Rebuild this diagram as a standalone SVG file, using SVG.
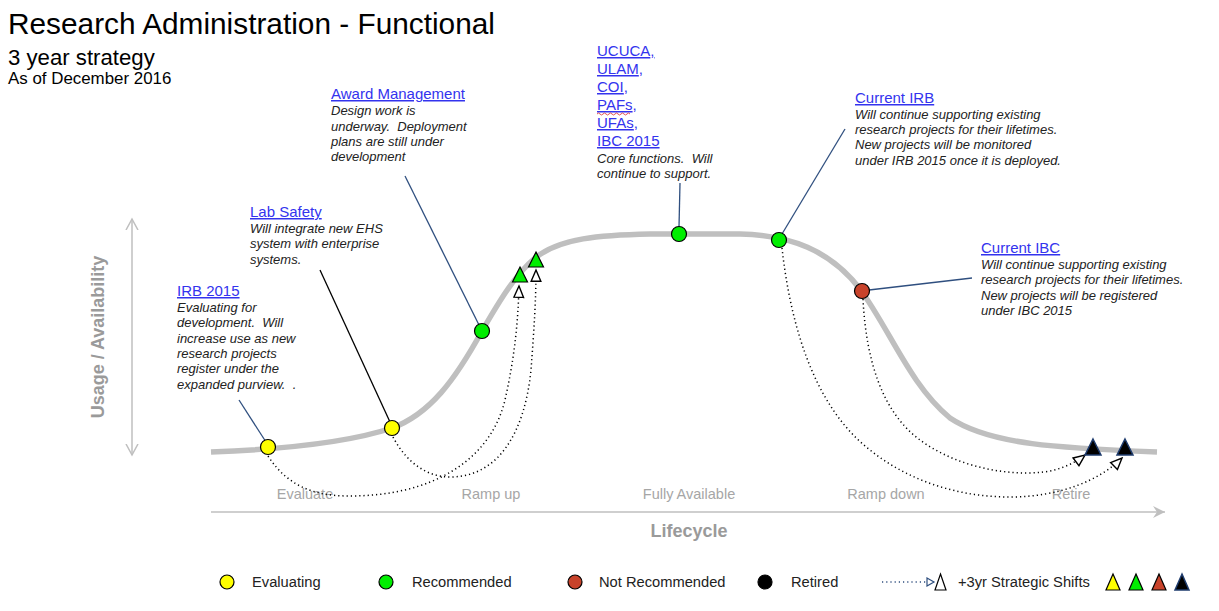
<svg xmlns="http://www.w3.org/2000/svg" width="1219" height="611" viewBox="0 0 1219 611">
<style>
  text { font-family: "Liberation Sans", Arial, sans-serif; }
  .title { font-size: 29.8px; fill: #000; }
  .sub { font-size: 22.2px; fill: #000; }
  .date { font-size: 16.9px; fill: #000; }
  .link { font-size: 15px; fill: #3333ee; text-decoration: underline; }
  .desc { font-size: 13px; font-style: italic; fill: #222; white-space: pre; }
  .stage { font-size: 14.5px; fill: #a6a6a6; }
  .axis { font-size: 18px; font-weight: bold; fill: #9a9a9a; }
  .leg { font-size: 14.7px; fill: #222; }
  .curve { fill: none; stroke: #bfbfbf; stroke-width: 5.5; stroke-linecap: butt; }
  .axisline { fill: none; stroke: #bfbfbf; stroke-width: 1.5; }
  .conn { fill: none; stroke: #2f4f7f; stroke-width: 1.3; }
  .connb { fill: none; stroke: #000; stroke-width: 1.3; }
  .dot { fill: none; stroke: #000; stroke-width: 1.5; stroke-dasharray: 1.2 3; }
  .node { stroke: #000; stroke-width: 1.2; }
  .yel { fill: #ffff00; }
  .grn { fill: #00ee00; }
  .red { fill: #c8432b; }
  .blk { fill: #000; }
  .tri-blk { fill: #000; stroke: #1f3c6e; stroke-width: 1.5; }
  .tri-grn { fill: #00ee00; stroke: #000; stroke-width: 1.2; }
</style>
<defs>
  <marker id="openArrow" markerUnits="userSpaceOnUse" markerWidth="14" markerHeight="12" refX="10.5" refY="4.5" orient="auto" viewBox="-1 -1 13 11">
    <path d="M0,0 L10.5,4.5 L0,9 Z" fill="#fff" stroke="#000" stroke-width="1.3"/>
  </marker>
  <marker id="legArrow" markerUnits="userSpaceOnUse" markerWidth="10" markerHeight="10" refX="7" refY="4" orient="auto" viewBox="-1 -1 10 10">
    <path d="M0,0 L7,4 L0,8 Z" fill="#fff" stroke="#2f4f7f" stroke-width="1.2"/>
  </marker>
  <marker id="chev" markerUnits="userSpaceOnUse" markerWidth="14" markerHeight="14" refX="12" refY="6" orient="auto" viewBox="0 0 14 12">
    <path d="M0,0 L12,6 L0,12 L4,6 Z" fill="#bfbfbf"/>
  </marker>
  <marker id="chevOpen" markerUnits="userSpaceOnUse" markerWidth="14" markerHeight="14" refX="11" refY="6" orient="auto-start-reverse" viewBox="0 0 14 12">
    <path d="M0,0 L11,6 L0,12" fill="none" stroke="#bfbfbf" stroke-width="1.5"/>
  </marker>
</defs>

<g id="title">
  <text class="title" x="8" y="34">Research Administration - Functional</text>
  <text class="sub" x="8" y="65">3 year strategy</text>
  <text class="date" x="8" y="84">As of December 2016</text>
</g>

<g id="axes">
  <line class="axisline" x1="132" y1="219" x2="132" y2="455" marker-start="url(#chevOpen)" marker-end="url(#chevOpen)"/>
  <line class="axisline" x1="211" y1="512" x2="1165" y2="512" marker-end="url(#chev)"/>
  <text class="axis" transform="translate(104,337) rotate(-90)" text-anchor="middle">Usage / Availability</text>
  <text class="axis" x="689" y="537" text-anchor="middle">Lifecycle</text>
  <text class="stage" x="305" y="499" text-anchor="middle">Evaluate</text>
  <text class="stage" x="491" y="499" text-anchor="middle">Ramp up</text>
  <text class="stage" x="689" y="499" text-anchor="middle">Fully Available</text>
  <text class="stage" x="886" y="499" text-anchor="middle">Ramp down</text>
  <text class="stage" x="1071" y="499" text-anchor="middle">Retire</text>
</g>

<g id="lifecycle-curve">
  <path class="curve" d="M211,452 C290,449 350,442 392,428 C430,414 455,380 482,331 C500,300 515,275 535,258 C560,238 600,235 650,234 L740,234 C790,235 830,250 860,289 C890,330 910,385 950,418 C990,445 1060,448 1157,452"/>
</g>

<g id="connectors">
  <line class="conn" x1="239" y1="400" x2="266" y2="442"/>
  <line class="connb" x1="320" y1="270" x2="390" y2="422"/>
  <line class="conn" x1="405" y1="176" x2="479" y2="325"/>
  <line class="conn" x1="680" y1="183" x2="679" y2="227"/>
  <line class="conn" x1="845" y1="129" x2="782" y2="234"/>
  <line class="conn" x1="972" y1="278" x2="869" y2="290"/>
  <path class="dot" d="M268,456 C290,490 320,496 350,496 C430,496 490,462 505,400 C514,360 518,325 519,286" marker-end="url(#openArrow)"/>
  <path class="dot" d="M393,437 C405,460 425,477 450,477 C500,477 525,430 531,370 C534,330 536,300 536,270" marker-end="url(#openArrow)"/>
  <path class="dot" d="M782,248 C790,320 812,405 870,450 C910,482 960,497 1010,497 C1060,497 1100,480 1122,458" marker-end="url(#openArrow)"/>
  <path class="dot" d="M863,299 C866,360 882,412 920,440 C950,462 990,473 1027,473 C1050,473 1068,468 1085,455" marker-end="url(#openArrow)"/>
</g>

<g id="node-irb2015">
  <circle class="node yel" cx="268" cy="447" r="7.5"/>
  <text class="link" x="177" y="296">IRB 2015</text>
  <text class="desc" x="177" y="312">Evaluating for</text>
  <text class="desc" x="177" y="327">development.  Will</text>
  <text class="desc" x="177" y="343">increase use as new</text>
  <text class="desc" x="177" y="358">research projects</text>
  <text class="desc" x="177" y="373">register under the</text>
  <text class="desc" x="177" y="389">expanded purview.  .</text>
</g>

<g id="node-lab-safety">
  <circle class="node yel" cx="392" cy="428" r="7.5"/>
  <text class="link" x="250" y="217">Lab Safety</text>
  <text class="desc" x="250" y="233">Will integrate new EHS</text>
  <text class="desc" x="250" y="248">system with enterprise</text>
  <text class="desc" x="250" y="264">systems.</text>
</g>

<g id="node-award-management">
  <circle class="node grn" cx="482" cy="331" r="7.5"/>
  <text class="link" x="331" y="99">Award Management</text>
  <text class="desc" x="331" y="115">Design work is</text>
  <text class="desc" x="331" y="131">underway.  Deployment</text>
  <text class="desc" x="331" y="146">plans are still under</text>
  <text class="desc" x="331" y="161">development</text>
</g>

<g id="node-shift-green">
  <polygon class="tri-grn" points="520,267 527.5,282 512.5,282"/>
  <polygon class="tri-grn" points="536,252 543.5,267 528.5,267"/>
</g>

<g id="node-core">
  <circle class="node grn" cx="679" cy="234" r="7.5"/>
  <text class="link" x="597" y="56">UCUCA<tspan style="text-decoration:none">,</tspan></text>
  <text class="link" x="597" y="74">ULAM<tspan style="text-decoration:none">,</tspan></text>
  <text class="link" x="597" y="92">COI<tspan style="text-decoration:none">,</tspan></text>
  <text class="link" x="597" y="110">PAFs<tspan style="text-decoration:none">,</tspan></text>
  <path d="M597,114 q1.5,-2 3,0 t3,0 t3,0 t3,0 t3,0 t3,0 t3,0 t3,0 t3,0 t3,0 t3,0" fill="none" stroke="#e04040" stroke-width="0.9"/>
  <text class="link" x="597" y="128">UFAs<tspan style="text-decoration:none">,</tspan></text>
  <text class="link" x="597" y="146">IBC 2015</text>
  <text class="desc" x="597" y="163">Core functions.  Will</text>
  <text class="desc" x="597" y="178">continue to support.</text>
</g>

<g id="node-current-irb">
  <circle class="node grn" cx="779" cy="240" r="7.5"/>
  <text class="link" x="855" y="103">Current IRB</text>
  <text class="desc" x="855" y="119">Will continue supporting existing</text>
  <text class="desc" x="855" y="134">research projects for their lifetimes.</text>
  <text class="desc" x="855" y="149">New projects will be monitored</text>
  <text class="desc" x="855" y="165">under IRB 2015 once it is deployed.</text>
</g>

<g id="node-current-ibc">
  <circle class="node red" cx="862" cy="291" r="7.5"/>
  <text class="link" x="981" y="253">Current IBC</text>
  <text class="desc" x="981" y="269">Will continue supporting existing</text>
  <text class="desc" x="981" y="284">research projects for their lifetimes.</text>
  <text class="desc" x="981" y="300">New projects will be registered</text>
  <text class="desc" x="981" y="315">under IBC 2015</text>
</g>

<g id="node-shift-retired">
  <polygon class="tri-blk" points="1093,439 1101,455 1085,455"/>
  <polygon class="tri-blk" points="1125,439 1133,455 1117,455"/>
</g>

<g id="legend">
  <circle class="node yel" cx="227" cy="582" r="7"/>
  <text class="leg" x="252" y="587">Evaluating</text>
  <circle class="node grn" cx="386" cy="582" r="7"/>
  <text class="leg" x="412" y="587">Recommended</text>
  <circle class="node red" cx="575" cy="582" r="7"/>
  <text class="leg" x="599" y="587">Not Recommended</text>
  <circle class="node blk" cx="765" cy="582" r="7"/>
  <text class="leg" x="791" y="587">Retired</text>
  <line class="dot" x1="882" y1="582" x2="934" y2="582" style="stroke:#2f4f7f" marker-end="url(#legArrow)"/>
  <polygon points="940.5,574 946,590 935,590" fill="#fff" stroke="#000" stroke-width="1.2"/>
  <text class="leg" x="958" y="587">+3yr Strategic Shifts</text>
  <polygon points="1113,574 1120,590 1106,590" fill="#ffff00" stroke="#000" stroke-width="1.2"/>
  <polygon points="1136,574 1143,590 1129,590" fill="#00ee00" stroke="#000" stroke-width="1.2"/>
  <polygon points="1159,574 1166,590 1152,590" fill="#c8432b" stroke="#000" stroke-width="1.2"/>
  <polygon points="1182,574 1189,590 1175,590" fill="#000" stroke="#1f3c6e" stroke-width="1.5"/>
</g>
</svg>
